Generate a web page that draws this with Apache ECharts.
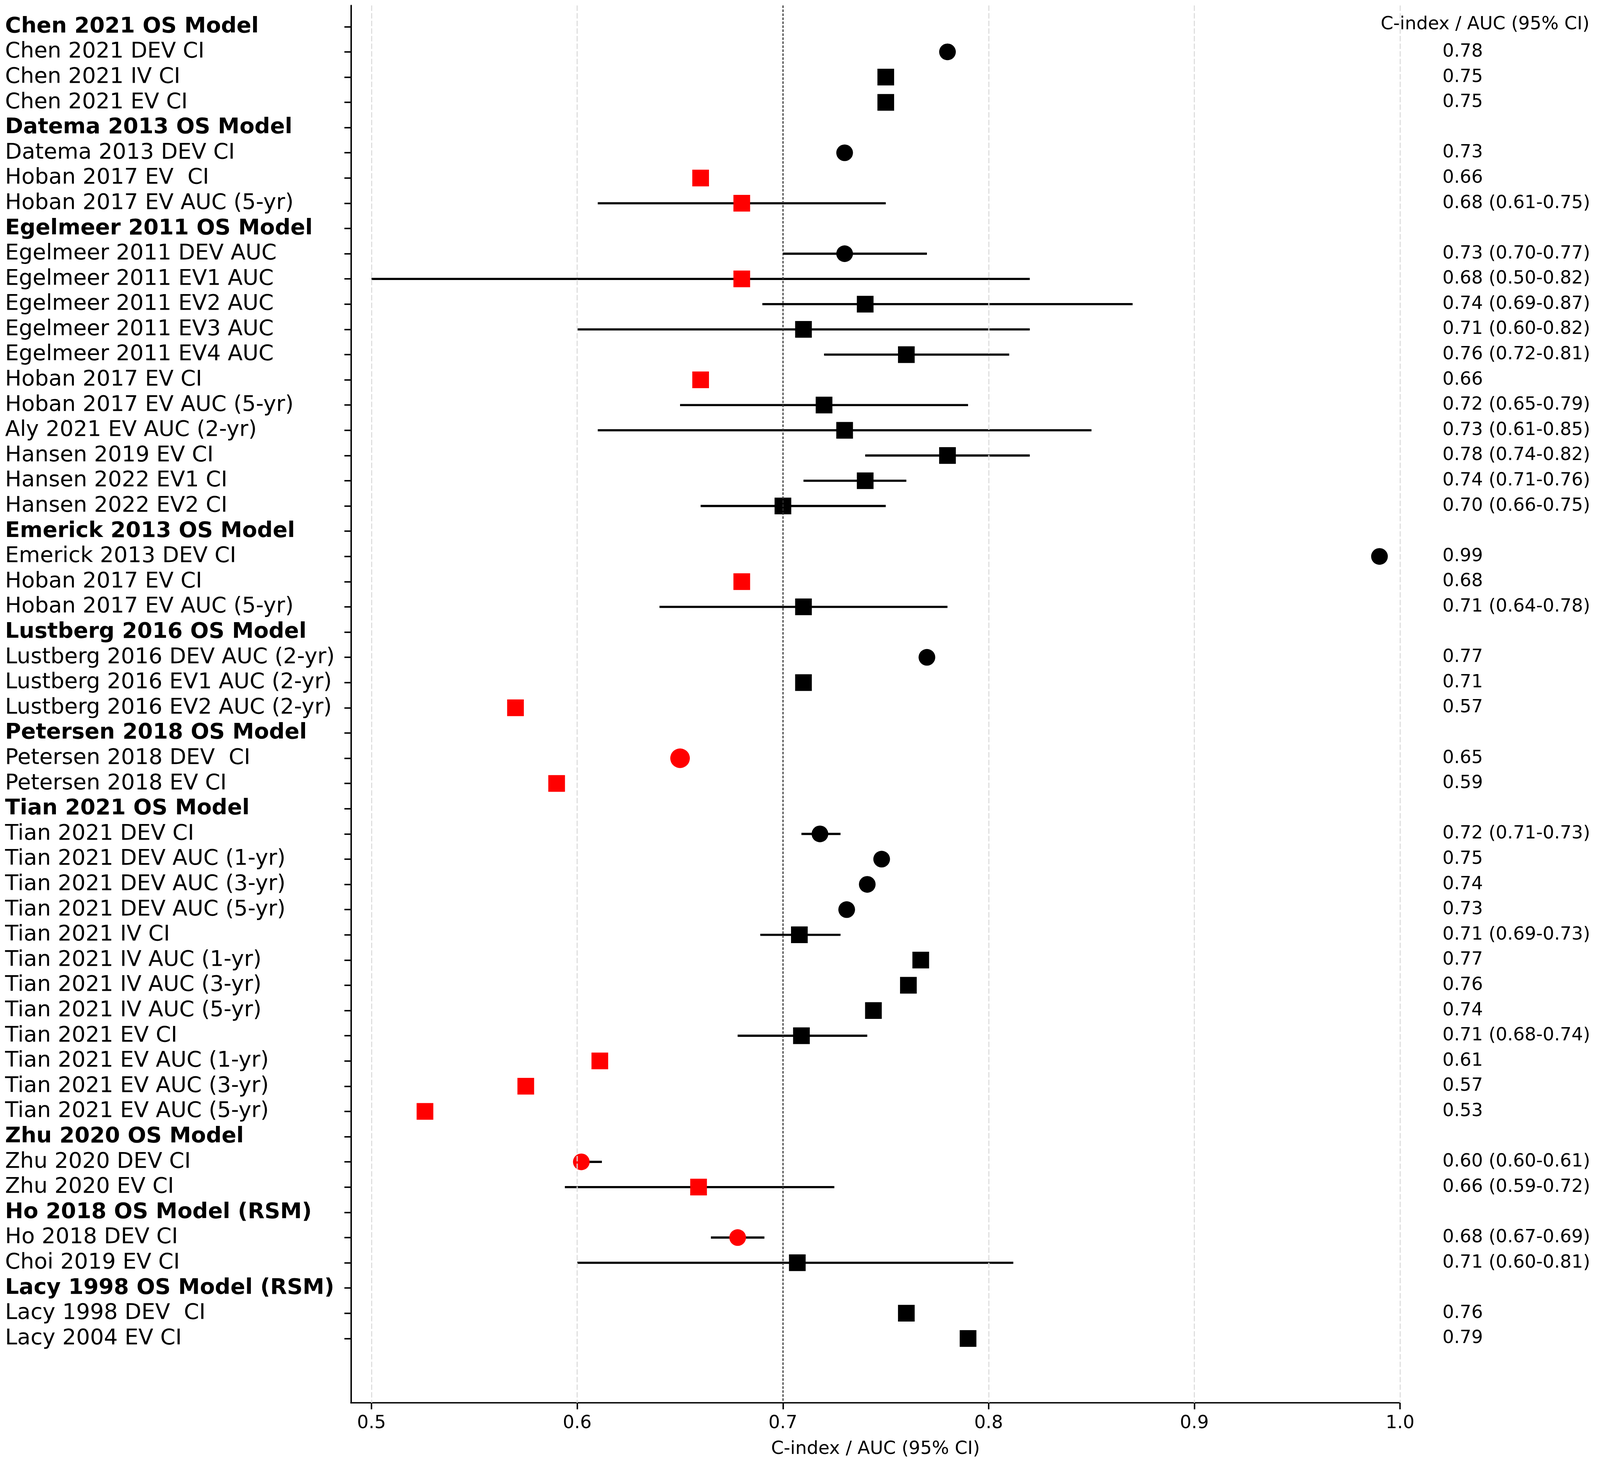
<!DOCTYPE html>
<html>
<head>
<meta charset="utf-8">
<script src="https://cdn.jsdelivr.net/npm/echarts@6/dist/echarts.min.js"></script>
<style>
  html, body { margin: 0; padding: 0; background: #fff; overflow: hidden; }
  #forest { width: 100vw; height: 100vh; }
</style>
</head>
<body>
<div id="forest"></div>
<script>
// row labels, top to bottom
var rowLabels = [
    'Chen 2021 OS Model', 'Chen 2021 DEV CI', 'Chen 2021 IV CI', 'Chen 2021 EV CI',
    'Datema 2013 OS Model', 'Datema 2013 DEV CI', 'Hoban 2017 EV  CI', 'Hoban 2017 EV AUC (5-yr)',
    'Egelmeer 2011 OS Model', 'Egelmeer 2011 DEV AUC', 'Egelmeer 2011 EV1 AUC', 'Egelmeer 2011 EV2 AUC',
    'Egelmeer 2011 EV3 AUC', 'Egelmeer 2011 EV4 AUC', 'Hoban 2017 EV CI', 'Hoban 2017 EV AUC (5-yr)',
    'Aly 2021 EV AUC (2-yr)', 'Hansen 2019 EV CI', 'Hansen 2022 EV1 CI', 'Hansen 2022 EV2 CI',
    'Emerick 2013 OS Model', 'Emerick 2013 DEV CI', 'Hoban 2017 EV CI', 'Hoban 2017 EV AUC (5-yr)',
    'Lustberg 2016 OS Model', 'Lustberg 2016 DEV AUC (2-yr)', 'Lustberg 2016 EV1 AUC (2-yr)', 'Lustberg 2016 EV2 AUC (2-yr)',
    'Petersen 2018 OS Model', 'Petersen 2018 DEV  CI', 'Petersen 2018 EV CI',
    'Tian 2021 OS Model', 'Tian 2021 DEV CI', 'Tian 2021 DEV AUC (1-yr)', 'Tian 2021 DEV AUC (3-yr)',
    'Tian 2021 DEV AUC (5-yr)', 'Tian 2021 IV CI', 'Tian 2021 IV AUC (1-yr)', 'Tian 2021 IV AUC (3-yr)',
    'Tian 2021 IV AUC (5-yr)', 'Tian 2021 EV CI', 'Tian 2021 EV AUC (1-yr)', 'Tian 2021 EV AUC (3-yr)',
    'Tian 2021 EV AUC (5-yr)',
    'Zhu 2020 OS Model', 'Zhu 2020 DEV CI', 'Zhu 2020 EV CI',
    'Ho 2018 OS Model (RSM)', 'Ho 2018 DEV CI', 'Choi 2019 EV CI',
    'Lacy 1998 OS Model (RSM)', 'Lacy 1998 DEV  CI', 'Lacy 2004 EV CI'
];

// model header rows (bold)
var headerRows = [0, 4, 8, 20, 24, 28, 31, 44, 47, 50];

// point estimate per row (null for header rows)
var estimate = [
    null, 0.78, 0.75, 0.75,
    null, 0.73, 0.66, 0.68,
    null, 0.73, 0.68, 0.74, 0.71, 0.76, 0.66, 0.72, 0.73, 0.78, 0.74, 0.70,
    null, 0.99, 0.68, 0.71,
    null, 0.77, 0.71, 0.57,
    null, 0.65, 0.59,
    null, 0.718, 0.748, 0.741, 0.731, 0.708, 0.767, 0.761, 0.744, 0.709, 0.611, 0.575, 0.526,
    null, 0.602, 0.659,
    null, 0.678, 0.707,
    null, 0.76, 0.79
];

// 95% CI bounds (null when not reported)
var lower = [
    null, null, null, null,
    null, null, null, 0.61,
    null, 0.70, 0.50, 0.69, 0.60, 0.72, null, 0.65, 0.61, 0.74, 0.71, 0.66,
    null, null, null, 0.64,
    null, null, null, null,
    null, null, null,
    null, 0.709, null, null, null, 0.689, null, null, null, 0.678, null, null, null,
    null, 0.600, 0.594,
    null, 0.665, 0.600,
    null, null, null
];
var upper = [
    null, null, null, null,
    null, null, null, 0.75,
    null, 0.77, 0.82, 0.87, 0.82, 0.81, null, 0.79, 0.85, 0.82, 0.76, 0.75,
    null, null, null, 0.78,
    null, null, null, null,
    null, null, null,
    null, 0.728, null, null, null, 0.728, null, null, null, 0.741, null, null, null,
    null, 0.612, 0.725,
    null, 0.691, 0.812,
    null, null, null
];

// marker shape: c = circle, s = square
var shape = [
    '', 'c', 's', 's',
    '', 'c', 's', 's',
    '', 'c', 's', 's', 's', 's', 's', 's', 's', 's', 's', 's',
    '', 'c', 's', 's',
    '', 'c', 's', 's',
    '', 'c', 's',
    '', 'c', 'c', 'c', 'c', 's', 's', 's', 's', 's', 's', 's', 's',
    '', 'c', 's',
    '', 'c', 's',
    '', 's', 's'
];

// text column on the right
var ciText = [
    '', '0.78', '0.75', '0.75',
    '', '0.73', '0.66', '0.68 (0.61-0.75)',
    '', '0.73 (0.70-0.77)', '0.68 (0.50-0.82)', '0.74 (0.69-0.87)', '0.71 (0.60-0.82)',
    '0.76 (0.72-0.81)', '0.66', '0.72 (0.65-0.79)', '0.73 (0.61-0.85)', '0.78 (0.74-0.82)',
    '0.74 (0.71-0.76)', '0.70 (0.66-0.75)',
    '', '0.99', '0.68', '0.71 (0.64-0.78)',
    '', '0.77', '0.71', '0.57',
    '', '0.65', '0.59',
    '', '0.72 (0.71-0.73)', '0.75', '0.74', '0.73', '0.71 (0.69-0.73)', '0.77', '0.76', '0.74',
    '0.71 (0.68-0.74)', '0.61', '0.57', '0.53',
    '', '0.60 (0.60-0.61)', '0.66 (0.59-0.72)',
    '', '0.68 (0.67-0.69)', '0.71 (0.60-0.81)',
    '', '0.76', '0.79'
];

var xTicks = [0.5, 0.6, 0.7, 0.8, 0.9, 1.0];
var refValue = 0.7;

var FONT = 'DejaVu Sans';

// layout is measured on a 4409 x 3759 page and scaled to the real viewport
var W = window.innerWidth, H = window.innerHeight;
var sx = W / 4409, sy = H / 3759, sf = Math.min(sx, sy);

var rowIdx = rowLabels.map(function (_, i) { return i; });
var textRows = rowIdx.filter(function (i) { return ciText[i] !== ''; });

var markerData = [];
var barData = [];
rowIdx.forEach(function (i) {
    if (estimate[i] === null) return;
    markerData.push({
        value: [estimate[i], i],
        symbol: shape[i] === 'c' ? 'circle' : 'rect',
        symbolSize: (i === 29 ? 54 : 46) * sf,
        itemStyle: { color: estimate[i] < refValue ? '#ff0000' : '#000000', opacity: 1 }
    });
    if (lower[i] !== null) {
        barData.push([lower[i], upper[i], i]);
    }
});

var myChart = echarts.init(document.getElementById('forest'));

var yRange = { min: -0.84, max: 54.55 };

var option = {
    animation: false,
    backgroundColor: '#ffffff',
    title: {
        text: 'C-index / AUC (95% CI)',
        right: 29 * sx,
        top: 40 * sy,
        padding: 0,
        textStyle: { fontFamily: FONT, fontSize: 50 * sf, fontWeight: 'normal', color: '#000' }
    },
    grid: { left: 967 * sx, right: 551 * sx, top: 14 * sy, bottom: 167 * sy },
    xAxis: {
        type: 'value',
        min: 0.49,
        max: 1.0,
        name: 'C-index / AUC (95% CI)',
        nameLocation: 'middle',
        nameGap: 96 * sy,
        nameTextStyle: { fontFamily: FONT, fontSize: 50 * sf, color: '#000' },
        axisLine: { show: true, onZero: false, lineStyle: { color: '#000', width: 4 * sf } },
        axisTick: { show: true, customValues: xTicks, length: 18 * sf, lineStyle: { color: '#000', width: 4 * sf } },
        axisLabel: {
            customValues: xTicks,
            formatter: function (v) { return v.toFixed(1); },
            fontFamily: FONT, fontSize: 50 * sf, color: '#000', margin: 30 * sy
        },
        splitLine: { show: false }
    },
    yAxis: [
        {
            type: 'value',
            inverse: true,
            min: yRange.min,
            max: yRange.max,
            axisLine: { show: true, onZero: false, lineStyle: { color: '#000', width: 4 * sf } },
            axisTick: { show: true, customValues: rowIdx, length: 18 * sf, lineStyle: { color: '#000', width: 4 * sf } },
            axisLabel: {
                customValues: rowIdx,
                align: 'left',
                margin: 953 * sx,
                formatter: function (v) {
                    var tag = headerRows.indexOf(v) >= 0 ? 'b' : 'n';
                    return '{' + tag + '|' + rowLabels[v] + '}';
                },
                rich: {
                    n: { fontFamily: FONT, fontSize: 60 * sf, color: '#000' },
                    b: { fontFamily: FONT, fontSize: 60 * sf, fontWeight: 'bold', color: '#000' }
                }
            },
            splitLine: { show: false }
        },
        {
            type: 'value',
            position: 'right',
            inverse: true,
            min: yRange.min,
            max: yRange.max,
            axisLine: { show: false },
            axisTick: { show: false },
            axisLabel: {
                customValues: textRows,
                align: 'left',
                margin: 117 * sx,
                formatter: function (v) { return ciText[v]; },
                fontFamily: FONT, fontSize: 50 * sf, color: '#000'
            },
            splitLine: { show: false }
        }
    ],
    series: [
        {
            // vertical grid lines
            type: 'scatter',
            data: [],
            z: 1,
            silent: true,
            markLine: {
                symbol: ['none', 'none'],
                silent: true,
                label: { show: false },
                lineStyle: { color: '#dddddd', width: 3 * sf, type: [15 * sf, 6 * sf] },
                data: xTicks.filter(function (t) { return t !== refValue; }).map(function (t) {
                    return { xAxis: t };
                })
            }
        },
        {
            // confidence intervals
            type: 'custom',
            z: 2,
            silent: true,
            encode: { x: [0, 1], y: 2 },
            data: barData,
            renderItem: function (params, api) {
                var p1 = api.coord([api.value(0), api.value(2)]);
                var p2 = api.coord([api.value(1), api.value(2)]);
                return {
                    type: 'line',
                    shape: { x1: p1[0], y1: p1[1], x2: p2[0], y2: p2[1] },
                    style: { stroke: '#000', lineWidth: 6 * sf }
                };
            }
        },
        {
            // reference line at 0.7
            type: 'scatter',
            data: [],
            z: 3,
            silent: true,
            markLine: {
                symbol: ['none', 'none'],
                silent: true,
                label: { show: false },
                lineStyle: { color: '#333333', width: 3 * sf, type: [7 * sf, 4 * sf] },
                data: [{ xAxis: refValue }]
            }
        },
        {
            type: 'scatter',
            z: 4,
            data: markerData
        }
    ]
};

myChart.setOption(option);
</script>
</body>
</html>
